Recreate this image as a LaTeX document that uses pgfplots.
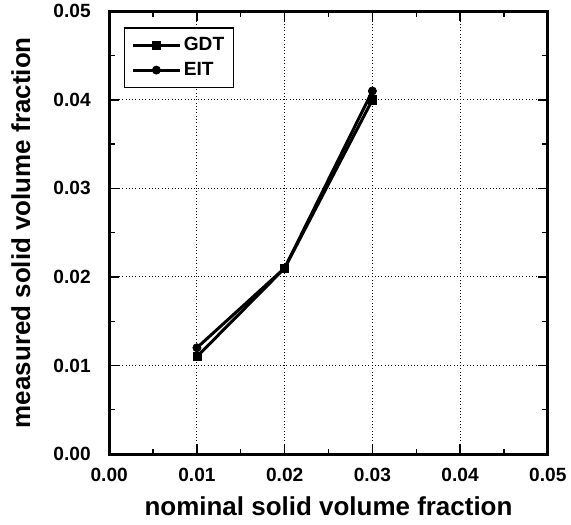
\documentclass[border=0pt]{standalone}
\usepackage{pgfplots}
\pgfplotsset{compat=1.18}
\usepackage{fontspec}
\setmainfont{Liberation Sans}

\begin{document}
\begin{tikzpicture}
  \begin{axis}[
    scale only axis,
    width=321pt, height=324pt,
    xmin=0, xmax=0.05, ymin=0, ymax=0.05,
    xtick={0,0.01,0.02,0.03,0.04,0.05}, ytick={0,0.01,0.02,0.03,0.04,0.05},
    minor x tick num=1, minor y tick num=1,
    scaled ticks=false,
    xticklabels={0.00,0.01,0.02,0.03,0.04,0.05},
    yticklabels={0.00,0.01,0.02,0.03,0.04,0.05},
    tick align=inside,
    major tick length=7pt, minor tick length=4pt,
    tick style={black, line width=1pt},
    axis line style={line width=2.2pt},
    grid=major,
    major grid style={black, dotted, line width=0.7pt},
    tick label style={font=\fontsize{14}{16}\selectfont\bfseries},
    xticklabel style={yshift=-7pt},
    yticklabel style={xshift=-10pt},
    label style={font=\fontsize{19}{21}\selectfont\bfseries},
    xlabel={nominal solid volume fraction},
    ylabel={measured solid volume fraction},
    xlabel style={yshift=-4pt},
    ylabel style={yshift=10pt},
    legend cell align=left,
    legend style={draw=black, line width=1pt, at={(0.034,0.964)}, anchor=north west,
      font=\fontsize{14}{16}\selectfont\bfseries, row sep=3pt, inner sep=5pt},
    legend image code/.code={
      \draw[mark repeat=2, mark phase=2] plot coordinates {(0pt,0pt) (17pt,0pt) (34pt,0pt)};
    },
  ]
    \addplot[black, line width=2.2pt, mark=square*, mark size=3pt,
      mark options={line width=0.5pt}] coordinates {
      (0.01,0.011) (0.02,0.021) (0.03,0.040)};
    \addlegendentry{GDT}
    \addplot[black, line width=2.2pt, mark=*, mark size=3pt,
      mark options={line width=0.5pt}] coordinates {
      (0.01,0.012) (0.02,0.021) (0.03,0.041)};
    \addlegendentry{EIT}
  \end{axis}
  \path ([xshift=-5pt,yshift=-3pt]current bounding box.south west)
    rectangle (current bounding box.north east);
\end{tikzpicture}
\end{document}
